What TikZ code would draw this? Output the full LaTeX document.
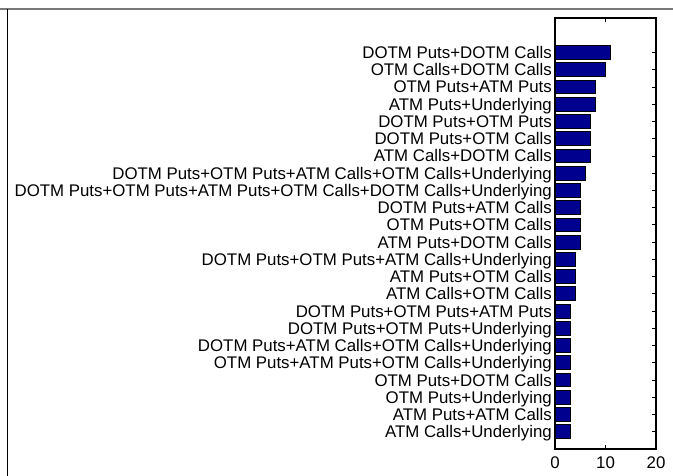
\documentclass[tikz,border=0pt]{standalone}
\usepackage{fontspec}
\setmainfont{Liberation Sans}
\definecolor{barblue}{RGB}{0,0,143}
\definecolor{framegray}{RGB}{120,120,120}
\begin{document}
\begin{tikzpicture}[x=1bp,y=-1bp,
  lbl/.style={anchor=base east, inner sep=0pt, font=\fontsize{16.9}{17}\selectfont},
  ticklbl/.style={anchor=base, inner sep=0pt, font=\fontsize{16.9}{17}\selectfont},
  bar/.style={fill=barblue, draw=black, line width=0.9bp},
  axisline/.style={line width=1.3bp, draw=black},
  tick/.style={line width=0.8bp, draw=black}]
\useasboundingbox (0,0) rectangle (673,476);
% outer frame remnants
\draw[framegray, line width=2.2bp] (0,9) -- (673,9);
\draw[black, line width=1.4bp] (7.5,9) -- (7.5,476);
% axes corners
\coordinate (ax-tl) at (555,18);
\coordinate (ax-tr) at (656,18);
\coordinate (ax-br) at (656,449);
\coordinate (ax-bl) at (555,449);
% bars and labels
\foreach \i/\v/\t in {
 1/11/DOTM Puts+DOTM Calls,
 2/10/OTM Calls+DOTM Calls,
 3/8/OTM Puts+ATM Puts,
 4/8/ATM Puts+Underlying,
 5/7/DOTM Puts+OTM Puts,
 6/7/DOTM Puts+OTM Calls,
 7/7/ATM Calls+DOTM Calls,
 8/6/DOTM Puts+OTM Puts+ATM Calls+OTM Calls+Underlying,
 9/5/DOTM Puts+OTM Puts+ATM Puts+OTM Calls+DOTM Calls+Underlying,
 10/5/DOTM Puts+ATM Calls,
 11/5/OTM Puts+OTM Calls,
 12/5/ATM Puts+DOTM Calls,
 13/4/DOTM Puts+OTM Puts+ATM Calls+Underlying,
 14/4/ATM Puts+OTM Calls,
 15/4/ATM Calls+OTM Calls,
 16/3/DOTM Puts+OTM Puts+ATM Puts,
 17/3/DOTM Puts+OTM Puts+Underlying,
 18/3/DOTM Puts+ATM Calls+OTM Calls+Underlying,
 19/3/OTM Puts+ATM Puts+OTM Calls+Underlying,
 20/3/OTM Puts+DOTM Calls,
 21/3/OTM Puts+Underlying,
 22/3/ATM Puts+ATM Calls,
 23/3/ATM Calls+Underlying}
{
  \pgfmathsetmacro\yc{449-(24-\i)*17.24}
  \draw[bar] (555,\yc-6.9) rectangle (555+\v*5.05,\yc+6.9);
  \node[lbl] (l\i) at (552,\yc+6.0) {\t};
  \draw[tick] (656,\yc) -- (652,\yc);
}
% axes box
\draw[axisline] (ax-tl) -- (ax-tr) -- (ax-br) -- (ax-bl) -- cycle;
\draw[tick] (605.5,18) -- (605.5,22);
\draw[tick] (605.5,449) -- (605.5,445);
\node[ticklbl] (x0) at (555,468) {0};
\node[ticklbl] (x10) at (605.5,468) {10};
\node[ticklbl] (x20) at (656,468) {20};
\end{tikzpicture}
\end{document}
